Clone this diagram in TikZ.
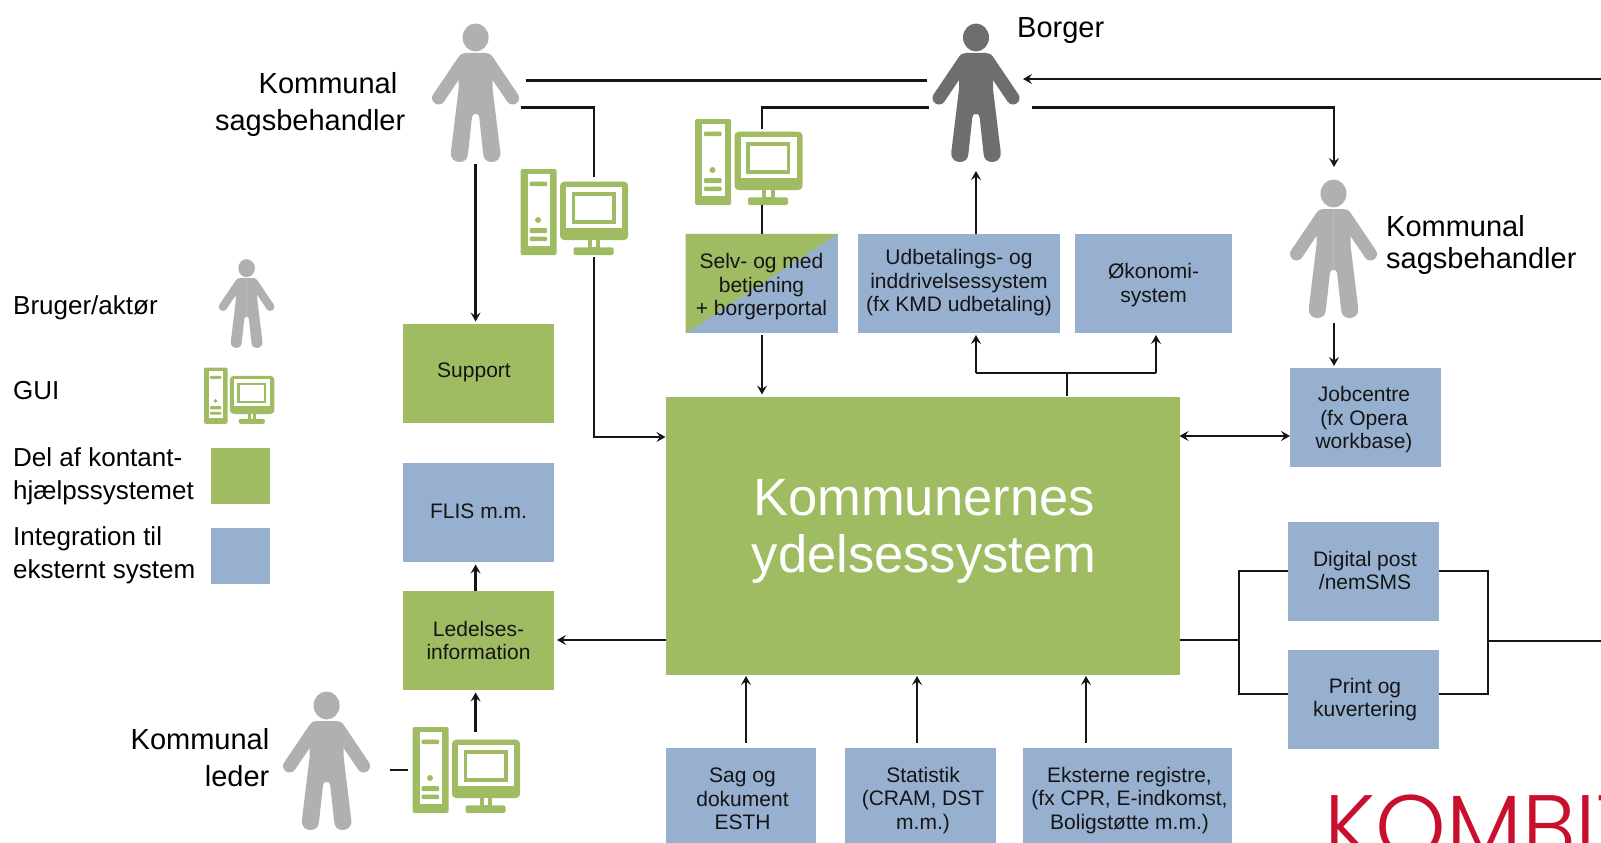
\documentclass[tikz,border=0pt]{standalone}
\usepackage{fontspec}
\setmainfont{Liberation Sans}
\newfontfamily\kombitfont[UprightFont=* Light]{Poppins}
\usetikzlibrary{arrows.meta}
\definecolor{grn}{HTML}{9FBC62}
\definecolor{blu}{HTML}{97B0D0}
\definecolor{pgray}{HTML}{B0B0B0}
\definecolor{dgray}{HTML}{6E6E6E}
\definecolor{kred}{HTML}{C8102E}
\definecolor{ink}{HTML}{151515}
\newcommand\fsbox{\fontsize{21}{23.5}\selectfont}
\tikzset{
  sysbox/.style={rectangle,inner sep=0pt,outer sep=0pt,minimum width=#1},
  bh/.style={minimum height=#1},
  greenbox/.style={sysbox=#1,fill=grn},
  bluebox/.style={sysbox=#1,fill=blu},
  boxtext/.style={inner sep=0pt,align=center,text=ink,font=\fsbox},
  caption/.style={inner sep=0pt,text=black,font=\fontsize{29}{37}\selectfont},
  legend/.style={inner sep=0pt,anchor=west,align=left,text=black,font=\fontsize{26}{33.5}\selectfont},
  wire/.style={draw=ink,line width=2.4pt},
  arrow/.style={wire,-{Stealth[length=9pt,width=10pt,inset=3.5pt]},shorten >=2pt},
  biarrow/.style={wire,{Stealth[length=9pt,width=10pt,inset=3.5pt]}-{Stealth[length=9pt,width=10pt,inset=3.5pt]}},
  pics/person/.style n args={2}{code={
    \begin{scope}[scale=#1]
      \fill[#2] (0,13.5) ellipse [x radius=13,y radius=14];
      \foreach \s in {1,-1}{
        \begin{scope}[xscale=\s]
          \fill[#2] (-0.2,29) -- (10,29) .. controls (13,29) and (15,30) .. (17,33)
            -- (17,65) -- (24.7,128) .. controls (25.2,135) and (21,138) .. (16,138)
            .. controls (11,138) and (7.7,135) .. (7.5,129)
            -- (3.6,93) .. controls (3.4,90) and (1.5,90) .. (0,90) -- (-0.2,90) -- cycle;
          \draw[#2,line width=#1*13pt,line cap=round] (12,37) -- (37,74);
        \end{scope}
      }
    \end{scope}
  }},
  pics/gui/.style={code={
    \begin{scope}[scale=#1]
      \fill[grn,rounded corners=2pt] (0,0) rectangle (36,86);
      \fill[white] (7,5) rectangle (29.5,77);
      \fill[grn,rounded corners=1pt] (9,12.7) rectangle (26.5,17.2);
      \fill[grn] (17.5,51) circle [radius=3];
      \fill[grn,rounded corners=1pt] (9,59) rectangle (26.5,64);
      \fill[grn,rounded corners=1pt] (9,67.7) rectangle (26.5,72);
      \fill[grn,rounded corners=4pt] (39.5,12.7) rectangle (107.5,71);
      \fill[white] (45.5,17.7) rectangle (101.5,59);
      \fill[grn] (51,23) rectangle (95,54.5);
      \fill[white] (54.5,27) rectangle (91.5,50.5);
      \fill[grn] (67,71) rectangle (79.5,79);
      \fill[white] (71,71) rectangle (75.5,78.3);
      \fill[grn,rounded corners=2pt] (53,78.3) rectangle (93,86);
    \end{scope}
  }},
}
\begin{document}
\begin{tikzpicture}[x=1pt,y=-1pt]
\useasboundingbox (0,0) rectangle (1601,843);
\clip (0,0) rectangle (1601,843);

% actors
\pic (actorA) at (475.6,24) {person={1}{pgray}};
\pic (actorB) at (976,24) {person={1}{dgray}};
\pic (actorC) at (1333.5,180) {person={1}{pgray}};
\pic (actorD) at (326.6,692) {person={1}{pgray}};
\pic (actorL) at (246.6,259.5) {person={0.64}{pgray}};

% GUI icons
\pic (guiA) at (520.6,169) {gui=1};
\pic (guiB) at (695,119) {gui=1};
\pic (guiD) at (412.5,727) {gui=1};
\pic (guiL) at (204,367.5) {gui=0.655};

% boxes
\node[greenbox=514pt,bh=278pt] (main) at (922.5,535.5) {};
\node[inner sep=0pt,align=center,text=white,font=\fontsize{52.5}{57}\selectfont] (mainT) at (924,531) {Kommunernes\\ydelsessystem};

\node[greenbox=151pt,bh=99pt,label={[boxtext,name=supportT,xshift=-4.5pt,yshift=1pt]center:Support}] (support) at (478.5,373) {};
\node[bluebox=151pt,bh=99pt,label={[boxtext,name=flisT,yshift=1pt]center:FLIS m.m.}] (flis) at (478.5,512) {};
\node[greenbox=151pt,bh=99pt,label={[boxtext,name=ledT,yshift=-0.5pt]center:Ledelses-\\information}] (led) at (478.5,640) {};
\node[sysbox=152pt,bh=99.5pt,fill=blu,path picture={\fill[grn] (path picture bounding box.south west) -- (path picture bounding box.north west) -- (path picture bounding box.north east) -- cycle;},label={[boxtext,name=selvT,yshift=-3pt]center:Selv- og med\\betjening\\+ borgerportal}] (selv) at (761.5,283.7) {};
\node[bluebox=202pt,bh=99.5pt,label={[boxtext,name=udbT,yshift=1pt]center:Udbetalings- og\\inddrivelsessystem\\(fx KMD udbetaling)}] (udb) at (959,283.7) {};
\node[bluebox=157pt,bh=99.5pt,label={[boxtext,name=okoT,yshift=-1.5pt]center:Økonomi-\\system}] (oko) at (1153.5,283.7) {};
\node[bluebox=151pt,bh=99.5pt,label={[boxtext,name=jobT,xshift=-1.5pt,yshift=-2pt]center:Jobcentre\\(fx Opera\\workbase)}] (job) at (1365.5,417.7) {};
\node[bluebox=151pt,bh=99pt,label={[boxtext,name=digT,xshift=1.5pt,yshift=0.5pt]center:Digital post\\/nemSMS}] (dig) at (1363.5,571) {};
\node[bluebox=151pt,bh=99pt,label={[boxtext,name=priT,xshift=1.5pt,yshift=-0.5pt]center:Print og\\kuvertering}] (pri) at (1363.5,699) {};
\node[bluebox=150pt,bh=100pt,label={[boxtext,name=sagT,xshift=2pt,yshift=-1.5pt]center:Sag og\\dokument\\ESTH}] (sag) at (740.5,797.5) {};
\node[bluebox=151pt,bh=100pt,label={[boxtext,name=statT,xshift=3pt,yshift=-3pt]center:Statistik\\(CRAM, DST\\m.m.)}] (stat) at (920,797.5) {};
\node[bluebox=209pt,bh=100pt,label={[boxtext,name=ekstT,xshift=2pt,yshift=-3pt]center:Eksterne registre,\\(fx CPR, E-indkomst,\\Boligstøtte m.m.)}] (ekst) at (1127.5,797.5) {};

% legend
\node[legend] (lgA) at (13,308) {Bruger/aktør};
\node[legend] (lgB) at (13,391) {GUI};
\node[legend] (lgC) at (13,476.5) {Del af kontant-\\hjælpssystemet};
\node[legend] (lgD) at (13,555.5) {Integration til\\eksternt system};
\node[greenbox=59pt,bh=56pt] (lgG) at (240.5,476) {};
\node[bluebox=59pt,bh=56pt] (lgH) at (240.5,555.5) {};

% captions
\node[caption,align=right,anchor=east] (capA) at (405.5,104.5) {Kommunal\kern8pt\\sagsbehandler};
\node[caption,anchor=west] (capB) at (1017,30.5) {Borger};
\node[caption,align=left,anchor=west,font=\fontsize{29}{32}\selectfont] (capC) at (1386,244.5) {Kommunal\\sagsbehandler};
\node[caption,align=right,anchor=east] (capD) at (269.5,757.5) {Kommunal\\leder};

% logo
\node[inner sep=0pt,anchor=base west,text=kred,font=\kombitfont\fontsize{90}{90}\selectfont] (logo) at (1324,858) {KOMBIT};

% connector ends
\coordinate (aE) at (526,80.7);
\coordinate (bW) at (927,80.7);
\coordinate (bE) at (1021,79);
\coordinate (offR) at (1601,79);
\coordinate (aEl) at (521,107.3);
\coordinate (aBend) at (594,107.3);
\coordinate (guiAtop) at (594,176.7);
\coordinate (guiAbot) at (594,256.7);
\coordinate (aS) at (475.6,164);
\coordinate (bWl) at (929,107.3);
\coordinate (bBend) at (762,107.3);
\coordinate (guiBtop) at (762,129);
\coordinate (guiBbot) at (762,204.5);
\coordinate (bEr) at (1032,107.3);
\coordinate (bBendR) at (1334,107.3);
\coordinate (cN) at (1334,167);
\coordinate (bS) at (976,171);
\coordinate (cS) at (1334,323);
\coordinate (busL) at (1239,640);
\coordinate (busR) at (1488,641);
\coordinate (offB) at (1601,641);
\coordinate (dE) at (390,770);
\coordinate (guiDW) at (408,770);
\coordinate (guiDN) at (475.6,731.7);
\coordinate (mT) at (1067,396);
\coordinate (mJ) at (1067,373);

% connectors
\draw[wire] (aE) -- (bW);
\draw[arrow] (offR) -- (bE);
\draw[wire] (aEl) -- (aBend) -- (guiAtop);
\draw[arrow,shorten >=0pt] (guiAbot) |- (main.west |- 0,437);
\draw[arrow] (aS) -- (aS |- support.north);
\draw[wire] (bWl) -- (bBend) -- (guiBtop);
\draw[wire] (guiBbot) -- (guiBbot |- selv.north);
\draw[arrow] (guiBbot |- 0,335) -- (guiBbot |- main.north);
\draw[arrow,shorten >=0pt] (bEr) -- (bBendR) -- (cN);
\draw[arrow,shorten >=0pt] (bS |- udb.north) -- (bS);
\draw[arrow] (cS) -- (cS |- job.north);
\draw[biarrow] (main.east |- 0,436) -- (job.west |- 0,436);
\draw[wire] (mT) -- (mJ);
\draw[arrow] (976,373) -- (976,333);
\draw[arrow] (1156,373) -- (1156,333);
\draw[wire] (976,373) -- (1156,373);
\draw[arrow,shorten >=3pt] (main.west |- led.east) -- (led.east);
\draw[arrow,shorten >=3pt] (aS |- led.north) -- (aS |- flis.south);
\draw[arrow,shorten >=3pt] (guiDN) -- (aS |- led.south);
\draw[wire] (dE) -- (guiDW);
\draw[arrow] (746,743) -- (746,674);
\draw[arrow] (917,743) -- (917,674);
\draw[arrow] (1086,743) -- (1086,674);
\draw[wire] (main.east |- busL) -- (busL);
\draw[wire] (dig.west) -| (busL);
\draw[wire] (pri.west |- 0,694) -| (busL);
\draw[wire] (dig.east) -| (busR);
\draw[wire] (pri.east |- 0,694) -| (busR);
\draw[wire] (busR) -- (offB);
\end{tikzpicture}
\end{document}
